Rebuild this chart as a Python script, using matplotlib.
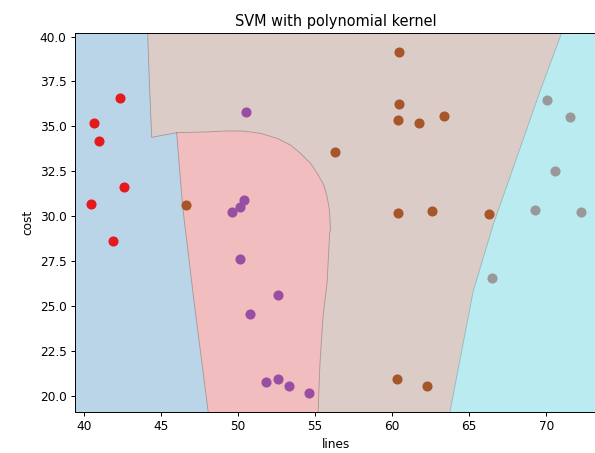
import numpy as np
import matplotlib
matplotlib.use("Agg")
import matplotlib.pyplot as plt

# training points, one list pair per class (lines, cost)
red_x = [42.33, 40.63, 40.93, 42.61, 40.41, 41.90]
red_y = [36.58, 35.18, 34.18, 31.60, 30.69, 28.60]
purple_x = [50.50, 50.38, 50.12, 49.60, 50.12, 52.58, 50.79, 51.80, 52.58, 53.29, 54.58]
purple_y = [35.79, 30.93, 30.49, 30.21, 27.63, 25.61, 24.53, 20.76, 20.94, 20.54, 20.17]
brown_x = [46.60, 56.27, 60.47, 60.47, 60.39, 61.77, 63.39, 60.37, 62.59, 66.30, 60.28, 62.27]
brown_y = [30.60, 33.59, 39.17, 36.27, 35.38, 35.18, 35.59, 30.19, 30.30, 30.12, 20.94, 20.55]
gray_x = [70.08, 71.57, 70.57, 69.28, 72.28, 66.47]
gray_y = [36.49, 35.50, 32.50, 30.32, 30.21, 26.54]

# decision boundaries
blue_tan_x = [44.12, 44.23, 44.38, 46.0]
blue_tan_y = [40.2, 37.47, 34.39, 34.65]
blue_pink_x = [46.0, 46.39, 47.14, 48.05]
blue_pink_y = [34.65, 30.54, 25.19, 19.1]
pink_top_x = [46.0, 48.22, 49.30, 50.38, 51.46, 52.54, 53.40, 54.05, 54.69, 55.13,
              55.55, 55.77, 55.92, 55.99, 55.94, 55.77, 55.51, 55.30, 55.19]
pink_top_y = [34.65, 34.70, 34.75, 34.74, 34.61, 34.33, 33.96, 33.50, 32.95, 32.39,
              31.75, 31.10, 30.36, 29.25, 29.07, 26.30, 24.45, 21.68, 19.1]
tan_cyan_x = [71.0, 69.58, 68.07, 66.56, 65.26, 63.75]
tan_cyan_y = [40.2, 36.91, 33.22, 29.53, 25.83, 19.1]

x_min, x_max = 39.4, 73.3
y_min, y_max = 19.1, 40.2

fig = plt.figure(figsize=(595/87, 453/87), dpi=87)
ax = fig.add_axes([75/595, 41/453, 522/595, 379/453])

# background class (brown region)
ax.fill([x_min, x_max, x_max, x_min], [y_min, y_min, y_max, y_max],
        color="tab:brown", alpha=0.3, lw=0)
# blue region
bx = [x_min, x_min] + blue_tan_x + blue_pink_x[1:]
by = [y_min, y_max] + blue_tan_y + blue_pink_y[1:]
ax.fill(bx, by, color="white", lw=0)
ax.fill(bx, by, color="tab:blue", alpha=0.3, lw=0)
# pink region
px = blue_pink_x + pink_top_x[::-1]
py = blue_pink_y + pink_top_y[::-1]
ax.fill(px, py, color="white", lw=0)
ax.fill(px, py, color="tab:red", alpha=0.3, lw=0)
# cyan region
cx = tan_cyan_x + [x_max, x_max]
cy = tan_cyan_y + [y_min, y_max]
ax.fill(cx, cy, color="white", lw=0)
ax.fill(cx, cy, color="tab:cyan", alpha=0.3, lw=0)

edge = dict(color="#8c7f80", lw=0.7, alpha=0.7)
ax.plot(blue_tan_x, blue_tan_y, **edge)
ax.plot(blue_pink_x, blue_pink_y, **edge)
ax.plot(pink_top_x, pink_top_y, **edge)
ax.plot(tan_cyan_x, tan_cyan_y, color="#7fa8ad", lw=0.7, alpha=0.7)

cmap = plt.cm.Set1
ax.scatter(red_x, red_y, color=cmap(0), s=70, lw=0, zorder=3)
ax.scatter(purple_x, purple_y, color=cmap(3), s=70, lw=0, zorder=3)
ax.scatter(brown_x, brown_y, color=cmap(6), s=70, lw=0, zorder=3)
ax.scatter(gray_x, gray_y, color=cmap(8), s=70, lw=0, zorder=3)

ax.set_xlim(x_min, x_max)
ax.set_ylim(y_min, y_max)
ax.set_xticks([40, 45, 50, 55, 60, 65, 70])
ax.set_yticks([20.0, 22.5, 25.0, 27.5, 30.0, 32.5, 35.0, 37.5, 40.0])
ax.set_xlabel("lines")
ax.set_ylabel("cost")
ax.set_title("SVM with polynomial kernel")

fig.savefig("out.png", dpi=87)
